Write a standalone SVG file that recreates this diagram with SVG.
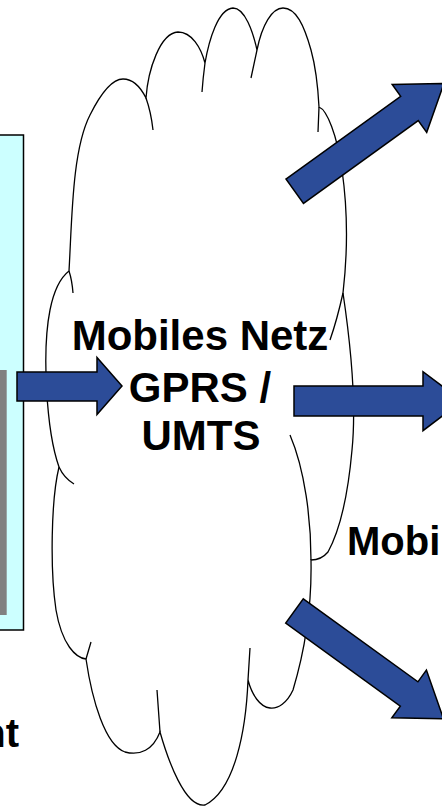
<svg xmlns="http://www.w3.org/2000/svg" width="442" height="810" viewBox="0 0 442 810">
<defs>
<style>
.arrow{fill:#2C4C98;stroke:#000;stroke-width:1.5;stroke-linejoin:miter}
.cloud{fill:#fff;stroke:#000;stroke-width:1.3}
.tail{fill:none;stroke:#000;stroke-width:1.3}
.lbl{font-family:"Liberation Sans",Arial,sans-serif;font-weight:bold;fill:#000}
</style>
<polygon id="diag" points="0,-15 141.5,-15 141.5,-29.5 184,0 141.5,29.5 141.5,15 0,15"/>
</defs>
<rect width="442" height="810" fill="#fff"/>
<g id="client">
<rect x="-2" y="135" width="25.5" height="495" fill="#CCFFFF" stroke="#000" stroke-width="1.5"/>
<rect x="-1" y="370" width="7.7" height="245" fill="#808080"/>
<text class="lbl" x="19" y="747" font-size="40" text-anchor="end">nt</text>
</g>
<g id="cloud">
<path class="cloud" d="M69,271 C72,220 72,150 90,115 C100,95 112,79 123,79 C133,79 141,88 146,98 C148,70 160,33 178,32 C192,32 201,48 205,63 C209,40 218,9 233,8 C245,8 253,32 257,50 C262,25 272,8 283,8 C296,8 304,25 311,50 C316,68 318,88 319,107 C327,110 337,135 342,170 C347,205 348,250 343,293 C350,340 357,400 352,450 C348,495 340,530 328,552 C323,558 316,560 311,560 C312,610 305,650 293,690 C287,703 278,709 270,708 C260,707 252,695 248,680 C246,730 235,790 205,805 C185,808 168,760 160,732 C153,750 140,756 125,752 C105,745 92,700 86,659 C76,658 62,645 56,610 C50,570 51,500 59,467 C46,430 42,350 50,310 C54,290 60,278 69,271 Z"/>
<path class="tail" d="M146,98 Q151,112 153,130 M205,63 Q203,78 202,92 M257,50 Q254,64 251,78 M319,107 L318,132 M343,293 Q337,320 330,340 M311,560 C311,520 305,470 290,435 M248,680 L250,648 M160,732 L157,690 M86,659 L91,642 M59,467 Q64,478 74,484 M69,271 Q72,280 73,293"/>
<text class="lbl" x="200" y="350" font-size="42" text-anchor="middle">Mobiles Netz</text>
<text class="lbl" x="200" y="402" font-size="42" text-anchor="middle">GPRS /</text>
<text class="lbl" x="201" y="450" font-size="42" text-anchor="middle">UMTS</text>
</g>
<g id="right-label">
<text class="lbl" x="347" y="555" font-size="40">Mobi</text>
</g>
<g id="connectors">
<polygon class="arrow" points="17,372 97,372 97,357.5 122,386 97,414.5 97,401 17,401"/>
<polygon class="arrow" points="294,386 423,386 423,371.7 462,401 423,430.7 423,416 294,416"/>
<use href="#diag" class="arrow" transform="translate(294.7,191.2) rotate(-35.8)"/>
<use href="#diag" class="arrow" transform="translate(294.5,611) rotate(35.9)"/>
</g>
</svg>
